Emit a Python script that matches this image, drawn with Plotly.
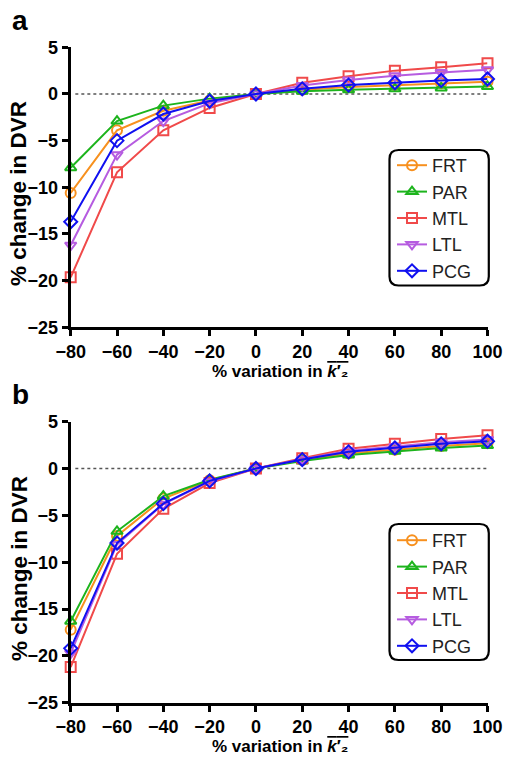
import plotly.graph_objects as go

W, H = 508, 758

x_vals = [-80, -60, -40, -20, 0, 20, 40, 60, 80, 100]
series_names = ["FRT", "PAR", "MTL", "LTL", "PCG"]

# Panel a
a_FRT = [-10.6, -3.9, -1.8, -0.7, 0, 0.45, 0.75, 0.95, 1.15, 1.3]
a_PAR = [-7.9, -2.9, -1.25, -0.5, 0, 0.3, 0.45, 0.55, 0.65, 0.8]
a_MTL = [-19.65, -8.4, -3.9, -1.5, 0, 1.2, 1.9, 2.5, 2.85, 3.3]
a_LTL = [-16.2, -6.5, -2.9, -1.0, 0, 0.9, 1.5, 1.95, 2.3, 2.6]
a_PCG = [-13.7, -5.0, -2.15, -0.75, 0, 0.55, 0.95, 1.2, 1.45, 1.6]

# Panel b
b_FRT = [-17.2, -7.2, -3.2, -1.25, 0, 0.9, 1.6, 2.0, 2.4, 2.7]
b_PAR = [-16.3, -6.7, -2.95, -1.2, 0, 0.8, 1.45, 1.85, 2.2, 2.45]
b_MTL = [-21.2, -9.1, -4.3, -1.55, 0, 1.1, 2.1, 2.65, 3.15, 3.55]
b_LTL = [-19.7, -8.1, -3.8, -1.4, 0, 1.0, 1.9, 2.35, 2.8, 3.1]
b_PCG = [-19.2, -7.95, -3.75, -1.32, 0, 0.96, 1.78, 2.2, 2.64, 2.92]

y_ticks = [-25, -20, -15, -10, -5, 0, 5]
x_ticks = [-80, -60, -40, -20, 0, 20, 40, 60, 80, 100]

colors = {"FRT": "#F7901E", "PAR": "#1DB41D", "MTL": "#F04A4A",
          "LTL": "#B65CE0", "PCG": "#1010F0"}
symbols = {"FRT": "circle-open", "PAR": "triangle-up-open", "MTL": "square-open",
           "LTL": "triangle-down-open", "PCG": "diamond-open"}

panel_a = {"FRT": a_FRT, "PAR": a_PAR, "MTL": a_MTL, "LTL": a_LTL, "PCG": a_PCG}
panel_b = {"FRT": b_FRT, "PAR": b_PAR, "MTL": b_MTL, "LTL": b_LTL, "PCG": b_PCG}


def px(x):
    return x / W


def py(y):
    return 1 - y / H


fig = go.Figure()

for panel, xa, ya, leg in [(panel_a, "x", "y", "legend"), (panel_b, "x2", "y2", "legend2")]:
    for name in series_names:
        fig.add_trace(go.Scatter(
            x=x_vals, y=panel[name], name=name, mode="lines+markers",
            xaxis=xa, yaxis=ya, legend=leg,
            line=dict(color=colors[name], width=2),
            marker=dict(symbol=symbols[name], size=10, color=colors[name],
                        line=dict(width=2, color=colors[name])),
            cliponaxis=False,
        ))

tickfont = dict(family="Arial", size=18, color="black", weight="bold")
axis_common = dict(showline=True, linewidth=3, linecolor="black", ticks="outside",
                   ticklen=6, tickwidth=2.5, tickcolor="black", showgrid=False,
                   zeroline=False, tickfont=tickfont)

legend_font = dict(family="Arial", size=18, color="#222")
xdom = [px(70.7), px(487.5)]
fig.update_layout(
    width=W, height=H, margin=dict(l=0, r=0, t=0, b=0, pad=0, autoexpand=False),
    plot_bgcolor="white", paper_bgcolor="white", showlegend=True,
    xaxis=dict(domain=xdom, range=[-80, 100], tickvals=x_ticks, anchor="y", **axis_common),
    yaxis=dict(domain=[py(327.3), py(47.3)], range=[-25, 5], tickvals=y_ticks, anchor="x", **axis_common),
    xaxis2=dict(domain=xdom, range=[-80, 100], tickvals=x_ticks, anchor="y2", **axis_common),
    yaxis2=dict(domain=[py(702.7), py(421.7)], range=[-25, 5], tickvals=y_ticks, anchor="x2", **axis_common),
    legend=dict(x=px(392), y=py(147), xanchor="left", yanchor="top",
                font=legend_font, bgcolor="rgba(0,0,0,0)",
                borderwidth=0, tracegroupgap=0, itemwidth=30),
    legend2=dict(x=px(392), y=py(522), xanchor="left", yanchor="top",
                 font=legend_font, bgcolor="rgba(0,0,0,0)",
                 borderwidth=0, tracegroupgap=0, itemwidth=30),
)


def rounded_rect(x0, y0, x1, y1, r=9):
    X0, X1 = px(x0), px(x1)
    Y0, Y1 = py(y0), py(y1)
    rx, ry = r / W, r / H
    return (f"M {X0+rx},{Y0} L {X1-rx},{Y0} Q {X1},{Y0} {X1},{Y0-ry} "
            f"L {X1},{Y1+ry} Q {X1},{Y1} {X1-rx},{Y1} L {X0+rx},{Y1} "
            f"Q {X0},{Y1} {X0},{Y1+ry} L {X0},{Y0-ry} Q {X0},{Y0} {X0+rx},{Y0} Z")


shapes = [
    dict(type="line", xref="x", yref="y", x0=-78, x1=100, y0=0, y1=0,
         line=dict(color="#555", width=1.5, dash="dot"), layer="below"),
    dict(type="line", xref="x2", yref="y2", x0=-78, x1=100, y0=0, y1=0,
         line=dict(color="#555", width=1.5, dash="dot"), layer="below"),
    dict(type="path", xref="paper", yref="paper", path=rounded_rect(389.5, 150, 488.8, 285.5),
         line=dict(color="black", width=2.2)),
    dict(type="path", xref="paper", yref="paper", path=rounded_rect(389.5, 524, 488.8, 660),
         line=dict(color="black", width=2.2)),
]
fig.update_layout(shapes=shapes)

title_font = dict(family="Arial", size=17, color="black", weight="bold")
ytitle_font = dict(family="Arial", size=22.5, color="black", weight="bold")
label_font = dict(family="Arial", size=28, color="black", weight="bold")
xtitle = '% variation in <span style="text-decoration:overline"><i>k</i>′₂</span>'
annotations = [
    dict(text="a", x=px(10), y=py(20), xref="paper", yref="paper", xanchor="left",
         yanchor="middle", showarrow=False, font=label_font),
    dict(text="b", x=px(10), y=py(394), xref="paper", yref="paper", xanchor="left",
         yanchor="middle", showarrow=False, font=label_font),
    dict(text="% change in DVR", x=px(19), y=py(194), xref="paper", yref="paper",
         xanchor="center", yanchor="middle",
         textangle=-90, showarrow=False, font=ytitle_font),
    dict(text="% change in DVR", x=px(19), y=py(569), xref="paper", yref="paper",
         xanchor="center", yanchor="middle",
         textangle=-90, showarrow=False, font=ytitle_font),
    dict(text=xtitle, x=px(280), y=py(371), xref="paper", yref="paper",
         xanchor="center", yanchor="middle", showarrow=False, font=title_font),
    dict(text=xtitle, x=px(280), y=py(746), xref="paper", yref="paper",
         xanchor="center", yanchor="middle", showarrow=False, font=title_font),
]
fig.update_layout(annotations=annotations)

fig.write_html("out.html")
